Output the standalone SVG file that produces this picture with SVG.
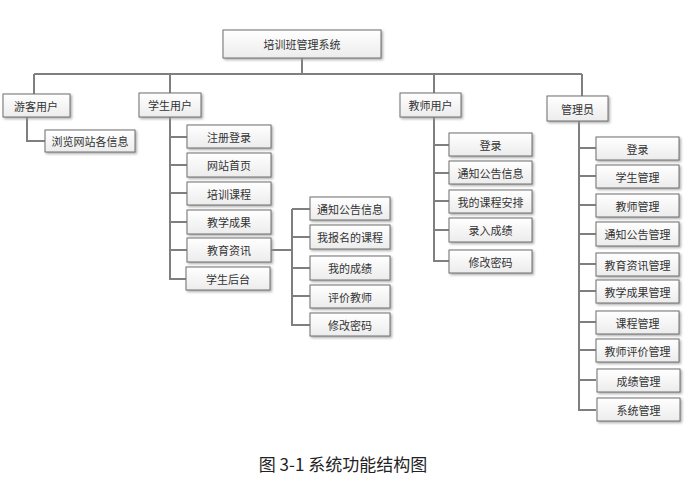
<svg xmlns="http://www.w3.org/2000/svg" width="694" height="483" viewBox="0 0 694 483">
<style>
.b{fill:url(#g);stroke:#6f6f6f;stroke-width:1;filter:url(#s)}
.t{font-family:"Noto Sans CJK SC",sans-serif;font-size:11px;fill:#333;text-anchor:middle;dominant-baseline:central}
.c{fill:none;stroke:#7f7f7f;stroke-width:2}
</style>
<defs>
<linearGradient id="g" x1="0" y1="0" x2="0" y2="1"><stop offset="0" stop-color="#ffffff"/><stop offset="1" stop-color="#ececec"/></linearGradient>
<filter id="s" x="-10%" y="-20%" width="130%" height="160%"><feDropShadow dx="1.5" dy="1.5" stdDeviation="0.8" flood-color="#999" flood-opacity="0.8"/></filter>
</defs>
<rect width="694" height="483" fill="#fff"/>
<g id="connectors" class="c">
<path d="M302 58V74M34 74H582M34 74V94M170 74V93M434 74V93M582 74V96"/>
<path d="M27 117V141H45"/>
<path d="M170 117V279H186M170 137H187M170 165H187M170 193H187M170 222H187M170 250H187"/>
<path d="M271 250H292M292 209V325H310M292 209H310M292 237H310M292 268H310M292 296H310"/>
<path d="M434 117V261H449M434 145H449M434 173H449M434 201H449M434 230H449"/>
<path d="M579 121V410H596M579 148H596M579 176H596M579 205H596M579 234H596M579 264H596M579 291H596M579 322H596M579 350H596M579 380H596"/>
</g>
<g id="root"><rect class="b" x="223" y="30" width="158" height="28"/><text class="t" x="302" y="44">培训班管理系统</text></g>
<g id="guest"><rect class="b" x="3" y="94" width="67" height="23"/><text class="t" x="36" y="105.5">游客用户</text></g>
<g id="g1"><rect class="b" x="45" y="130" width="90" height="22"/><text class="t" x="90" y="141">浏览网站各信息</text></g>
<g id="student"><rect class="b" x="139" y="93" width="62" height="24"/><text class="t" x="170" y="105">学生用户</text></g>
<g id="s1"><rect class="b" x="187" y="125" width="84" height="23"/><text class="t" x="229" y="136.5">注册登录</text></g>
<g id="s2"><rect class="b" x="187" y="153" width="84" height="24"/><text class="t" x="229" y="165">网站首页</text></g>
<g id="s3"><rect class="b" x="187" y="182" width="84" height="23"/><text class="t" x="229" y="193.5">培训课程</text></g>
<g id="s4"><rect class="b" x="187" y="210" width="84" height="24"/><text class="t" x="229" y="222">教学成果</text></g>
<g id="s5"><rect class="b" x="187" y="238" width="84" height="24"/><text class="t" x="229" y="250">教育资讯</text></g>
<g id="s6"><rect class="b" x="186" y="267" width="84" height="23"/><text class="t" x="228" y="278.5">学生后台</text></g>
<g id="e1"><rect class="b" x="310" y="197" width="80" height="23"/><text class="t" x="350" y="208.5">通知公告信息</text></g>
<g id="e2"><rect class="b" x="310" y="225" width="80" height="24"/><text class="t" x="350" y="237">我报名的课程</text></g>
<g id="e3"><rect class="b" x="310" y="256" width="80" height="24"/><text class="t" x="350" y="268">我的成绩</text></g>
<g id="e4"><rect class="b" x="310" y="285" width="80" height="23"/><text class="t" x="350" y="296.5">评价教师</text></g>
<g id="e5"><rect class="b" x="310" y="313" width="80" height="23"/><text class="t" x="350" y="324.5">修改密码</text></g>
<g id="teacher"><rect class="b" x="400" y="93" width="61" height="24"/><text class="t" x="430.5" y="105">教师用户</text></g>
<g id="t1"><rect class="b" x="449" y="133" width="83" height="23"/><text class="t" x="490.5" y="144.5">登录</text></g>
<g id="t2"><rect class="b" x="449" y="161" width="83" height="23"/><text class="t" x="490.5" y="172.5">通知公告信息</text></g>
<g id="t3"><rect class="b" x="449" y="190" width="83" height="23"/><text class="t" x="490.5" y="201.5">我的课程安排</text></g>
<g id="t4"><rect class="b" x="449" y="218" width="83" height="24"/><text class="t" x="490.5" y="230">录入成绩</text></g>
<g id="t5"><rect class="b" x="449" y="250" width="83" height="23"/><text class="t" x="490.5" y="261.5">修改密码</text></g>
<g id="admin"><rect class="b" x="547" y="96" width="61" height="25"/><text class="t" x="577.5" y="108.5">管理员</text></g>
<g id="a1"><rect class="b" x="596" y="137" width="83" height="23"/><text class="t" x="637.5" y="148.5">登录</text></g>
<g id="a2"><rect class="b" x="596" y="165" width="83" height="23"/><text class="t" x="637.5" y="176.5">学生管理</text></g>
<g id="a3"><rect class="b" x="596" y="194" width="83" height="23"/><text class="t" x="637.5" y="205.5">教师管理</text></g>
<g id="a4"><rect class="b" x="596" y="222" width="83" height="24"/><text class="t" x="637.5" y="234">通知公告管理</text></g>
<g id="a5"><rect class="b" x="596" y="253" width="83" height="23"/><text class="t" x="637.5" y="264.5">教育资讯管理</text></g>
<g id="a6"><rect class="b" x="596" y="280" width="83" height="23"/><text class="t" x="637.5" y="291.5">教学成果管理</text></g>
<g id="a7"><rect class="b" x="596" y="311" width="83" height="23"/><text class="t" x="637.5" y="322.5">课程管理</text></g>
<g id="a8"><rect class="b" x="596" y="339" width="83" height="23"/><text class="t" x="637.5" y="350.5">教师评价管理</text></g>
<g id="a9"><rect class="b" x="597" y="369" width="83" height="23"/><text class="t" x="638.5" y="380.5">成绩管理</text></g>
<g id="a10"><rect class="b" x="597" y="398" width="83" height="23"/><text class="t" x="638.5" y="409.5">系统管理</text></g>
<text x="343" y="471" font-family="Noto Sans CJK SC, sans-serif" font-size="17" fill="#222" text-anchor="middle">图 3-1 系统功能结构图</text>
</svg>
